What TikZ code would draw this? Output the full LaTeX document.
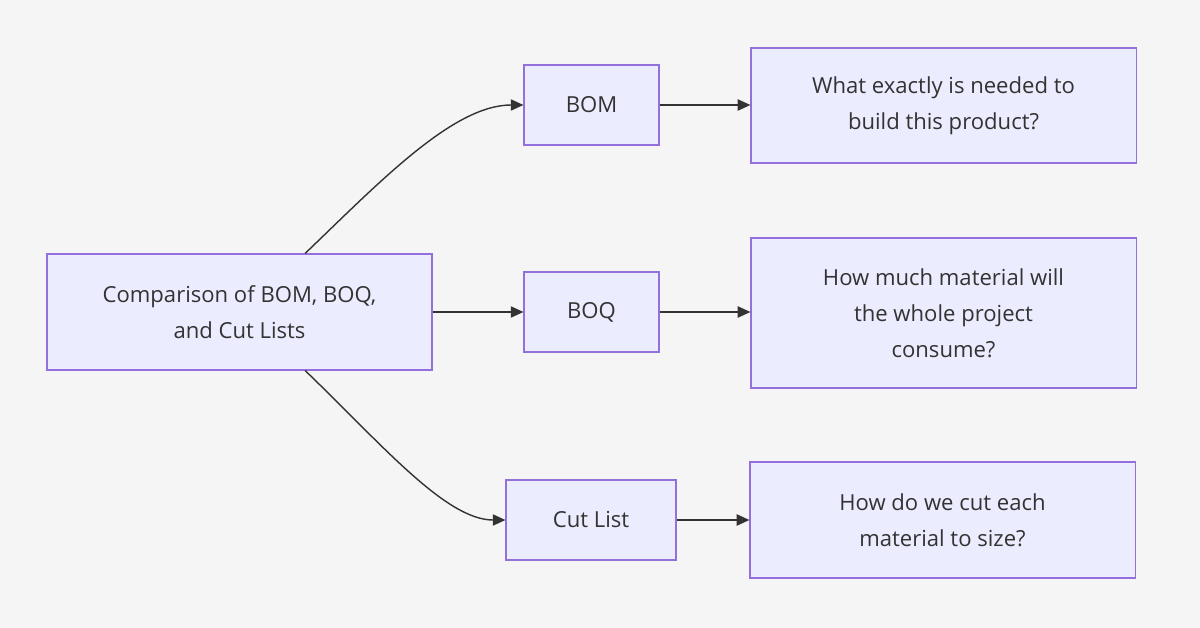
\documentclass[tikz,border=0pt]{standalone}
\usepackage{fontspec}
\setmainfont{Open Sans}
\usetikzlibrary{arrows.meta,positioning,calc}
\definecolor{nodefill}{HTML}{ECECFF}
\definecolor{nodeline}{HTML}{9370DB}
\definecolor{ink}{HTML}{333333}
\definecolor{bg}{HTML}{F5F5F5}

\begin{document}
\begin{tikzpicture}[
  x=0.025cm, y=-0.025cm,
  box/.style={draw=nodeline, fill=nodefill, line width=0.8pt, align=center, text=ink,
    font=\fontsize{15.7}{25.5}\selectfont, inner sep=0pt},
  big/.style={box, minimum width=9.625cm, minimum height=2.9cm},
  small/.style={box, minimum width=3.375cm, minimum height=2.0cm},
  arr/.style={-{Triangle[length=9pt, width=8pt]}, draw=ink, line width=1pt}
]
\fill[bg] (0,0) rectangle (1200,628);
\useasboundingbox (0,0) rectangle (1200,628);

\node[big] (comp) at (239.5,312) {Comparison of BOM, BOQ,\\and Cut Lists};
\node[small] (bom) at (591.5,105) {BOM};
\node[small] (boq) at (591.5,312) {BOQ};
\node[small, minimum width=4.25cm] (cut) at (591,520) {Cut List};
\node[big, minimum height=2.875cm] (qbom) at (943.5,105.5) {What exactly is needed to\\build this product?};
\node[big, minimum height=3.75cm] (qboq) at (943.5,313) {How much material will\\the whole project\\consume?};
\node[big, minimum height=2.9cm] (qcut) at (942.5,520) {How do we cut each\\material to size?};

% branches out of the comparison box
\draw[arr] ($(comp.north)!0.34!(comp.north east)$) .. controls +(75,-72) and +(-70,0) .. (bom.west);
\draw[arr] (comp.east) -- (boq.west);
\draw[arr] ($(comp.south)!0.34!(comp.south east)$) .. controls +(75,72) and +(-60,0) .. (cut.west);
% question for each list
\draw[arr] (bom) -- (qbom.west |- bom);
\draw[arr] (boq) -- (qboq.west |- boq);
\draw[arr] (cut) -- (qcut.west |- cut);
\end{tikzpicture}
\end{document}
